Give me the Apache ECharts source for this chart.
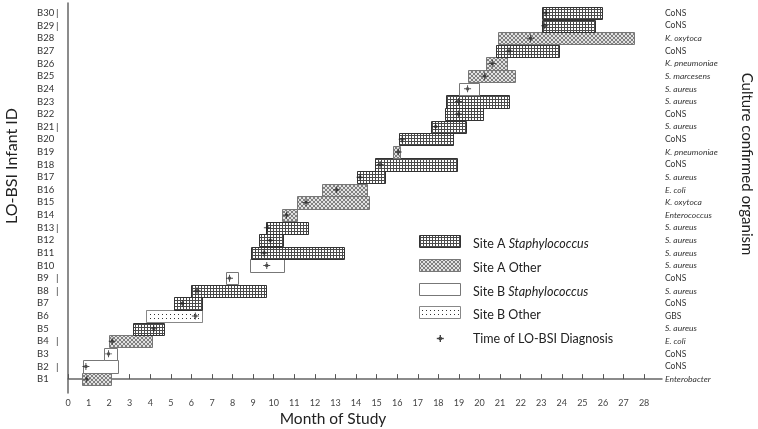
<!DOCTYPE html>
<html><head><meta charset="utf-8">
<script src="https://cdn.jsdelivr.net/npm/echarts@6/dist/echarts.min.js"></script>
<style>html,body{margin:0;padding:0;background:#fff}#c{width:758px;height:429px}</style>
</head><body><div id="c"></div>
<script>
// ---- data ----
const infantIds = ['B1','B2','B3','B4','B5','B6','B7','B8','B9','B10','B11','B12','B13','B14','B15','B16','B17','B18','B19','B20','B21','B22','B23','B24','B25','B26','B27','B28','B29','B30'];
const idMarked = [false,true,false,true,false,false,false,true,true,false,false,false,true,false,false,false,false,false,false,false,true,false,false,false,false,false,false,false,true,true];
const organisms = ['Enterobacter','CoNS','CoNS','E. coli','S. aureus','GBS','CoNS','S. aureus','CoNS','S. aureus','S. aureus','S. aureus','S. aureus','Enterococcus','K. oxytoca','E. coli','S. aureus','CoNS','K. pneumoniae','CoNS','S. aureus','CoNS','S. aureus','S. aureus','S. marcesens','K. pneumoniae','CoNS','K. oxytoca','CoNS','CoNS'];
const stayStart = [0.66,0.73,1.75,2.0,3.17,3.81,5.14,5.96,7.66,8.86,8.90,9.26,9.63,10.39,11.13,12.36,14.04,14.91,15.80,16.08,17.62,18.30,18.35,18.98,19.46,20.30,20.80,20.89,23.04,23.04];
const stayEnd   = [2.10,2.42,2.39,4.06,4.65,6.51,6.51,9.63,8.24,10.50,13.43,10.47,11.68,11.15,14.64,14.51,15.40,18.92,16.14,18.71,19.33,20.15,21.41,19.96,21.73,21.33,23.88,27.53,25.63,25.93];
// 0 = Site A Staphylococcus, 1 = Site A Other, 2 = Site B Staphylococcus, 3 = Site B Other
const groupType = [1,2,2,1,0,3,0,0,2,2,0,0,0,1,1,1,0,0,1,0,0,0,0,2,1,1,0,1,0,0];
const diagnosisMonth = [0.91,0.87,1.97,2.15,4.17,6.19,5.56,6.27,7.85,9.66,9.53,9.83,9.69,10.62,11.57,13.06,14.19,15.17,16.05,16.24,17.87,18.98,18.98,19.42,20.25,20.62,21.44,22.48,23.17,23.22];
const xTicks = [0,1,2,3,4,5,6,7,8,9,10,11,12,13,14,15,16,17,18,19,20,21,22,23,24,25,26,27,28];
const groupNames = ['Site A ', 'Site A Other', 'Site B ', 'Site B Other'];

// ---- patterns ----
function tile(w, h, draw){ const c=document.createElement('canvas'); c.width=w; c.height=h; const g=c.getContext('2d'); draw(g); return {image:c, repeat:'repeat'}; }
const patGrid = tile(3,3,g=>{g.fillStyle='#fff';g.fillRect(0,0,3,3);g.fillStyle='#4a4a4a';g.fillRect(0,0,3,1);g.fillRect(0,0,1,3);});
const patCross = tile(4,4,g=>{g.fillStyle='#e2e2e2';g.fillRect(0,0,4,4);g.fillStyle='#808080';for(let i=0;i<4;i++){g.fillRect(i,i,1,1);g.fillRect(3-i,i,1,1);}});
const patDots = tile(4,4,g=>{g.fillStyle='#fff';g.fillRect(0,0,4,4);g.fillStyle='#333';g.fillRect(2,2,1,1);});
const fills = [patGrid, patCross, '#ffffff', patDots];
const strokes = ['#333','#777','#777','#888'];

const starPath = 'path://M4.3,0 L5.7,0 L5.7,4.3 L10,4.3 L10,5.7 L5.7,5.7 L5.7,10 L4.3,10 L4.3,5.7 L0,5.7 L0,4.3 L4.3,4.3 Z M3,3 L7,3 L7,7 L3,7 Z';
const rowTicks = infantIds.map((_, i) => i);
const FONT = 'Lato, "Open Sans", sans-serif';

const chart = echarts.init(document.getElementById('c'), null, {renderer:'canvas'});

function renderItem(params, api){
  const idx = api.value(0);
  const p0 = api.coord([api.value(1), idx]);
  const p1 = api.coord([api.value(2), idx]);
  const h = api.size([0,1])[1]*0.97;
  const t = api.value(3);
  const x0 = Math.round(p0[0])+0.5, x1 = Math.round(p1[0])+0.5;
  const y0 = Math.round(p0[1]-h/2)+0.5, y1 = Math.round(p0[1]+h/2)+0.5;
  return {type:'rect', shape:{x:x0,y:y0,width:x1-x0,height:y1-y0}, style:{fill:fills[t], stroke:strokes[t], lineWidth:1}};
}

const legendY = [235, 259, 283, 306];
const legendGraphics = [];
legendY.forEach((y, t) => {
  legendGraphics.push({type:'rect', shape:{x:419.5,y:y+0.5,width:41,height:12}, style:{fill:fills[t], stroke:strokes[t], lineWidth:1}});
  const txt = (t===0||t===2) ? '{n|'+groupNames[t]+'}{i|Staphylococcus}' : '{n|'+groupNames[t]+'}';
  legendGraphics.push({type:'text', x:473, y:y+9, style:{text:txt, verticalAlign:'middle', rich:{n:{fontFamily:FONT,fontSize:12.5,fill:'#222'}, i:{fontFamily:FONT,fontSize:12.5,fontStyle:'italic',fill:'#222'}}}});
});
// legend asterisk built from small rects
legendGraphics.push({type:'rect', shape:{x:439.6,y:335,width:1.4,height:7}, style:{fill:'#444'}});
legendGraphics.push({type:'rect', shape:{x:436.8,y:337.8,width:7,height:1.4}, style:{fill:'#444'}});
legendGraphics.push({type:'rect', shape:{x:438.8,y:337,width:3,height:3}, style:{fill:'#444'}});
legendGraphics.push({type:'text', x:473, y:339, style:{text:'Time of LO-BSI Diagnosis', verticalAlign:'middle', font:'12.5px '+FONT, fill:'#222'}});

chart.setOption({
  animation:false,
  backgroundColor:'#fff',
  grid:{left:68, right:96, top:3, bottom:36, containLabel:false, outerBoundsMode:'none'},
  xAxis:{type:'value', min:0, max:28.87, interval:1,
    axisLine:{show:true, lineStyle:{color:'#666', width:1.5}},
    axisTick:{show:true, inside:true, length:5, customValues:xTicks, lineStyle:{color:'#555'}},
    axisLabel:{customValues:xTicks, fontSize:9, color:'#444', margin:6, fontFamily:FONT},
    splitLine:{show:false}},
  yAxis:[
    {type:'value', min:-1.1, max:29.8, position:'left',
      axisLine:{show:true, lineStyle:{color:'#666', width:1.5}},
      axisTick:{show:false}, splitLine:{show:false},
      axisLabel:{customValues:rowTicks, align:'left', margin:31,
        formatter:v=>{const i=Math.round(v); return '{id|'+infantIds[i]+'}'+(idMarked[i]?'{bar||}':'');},
        rich:{id:{width:19, fontSize:9.5, color:'#333', fontFamily:FONT}, bar:{fontSize:10, color:'#333', fontFamily:FONT}}}},
    {type:'value', min:-1.1, max:29.8, position:'right',
      axisLine:{show:false}, axisTick:{show:false}, splitLine:{show:false},
      axisLabel:{customValues:rowTicks, align:'left', margin:3,
        formatter:v=>{const o=organisms[Math.round(v)]; return (o==='CoNS'||o==='GBS') ? '{n|'+o+'}' : '{i|'+o+'}';},
        rich:{n:{fontSize:8.5, color:'#333', fontFamily:FONT}, i:{fontSize:8.5, color:'#333', fontStyle:'italic', fontFamily:FONT}}}}
  ],
  series:[
    {type:'custom', renderItem:renderItem, yAxisIndex:0,
      encode:{x:[1,2], y:0},
      data: infantIds.map((id,i)=>[i, stayStart[i], stayEnd[i], groupType[i]]), z:2},
    {type:'scatter', yAxisIndex:0, symbol:starPath, symbolSize:7, itemStyle:{color:'#222'},
      data: diagnosisMonth.map((d,i)=>[d,i]), z:5}
  ],
  graphic:[
    {type:'text', x:12, y:166, rotation:Math.PI/2, style:{text:'LO-BSI Infant ID', align:'center', verticalAlign:'middle', font:'16px '+FONT, fill:'#222'}},
    {type:'text', x:747, y:164, rotation:-Math.PI/2, style:{text:'Culture confirmed organism', align:'center', verticalAlign:'middle', font:'15px '+FONT, fill:'#222'}},
    {type:'text', x:333, y:419, style:{text:'Month of Study', align:'center', verticalAlign:'middle', font:'15.5px '+FONT, fill:'#222'}}
  ].concat(legendGraphics)
});
</script>
</body></html>
